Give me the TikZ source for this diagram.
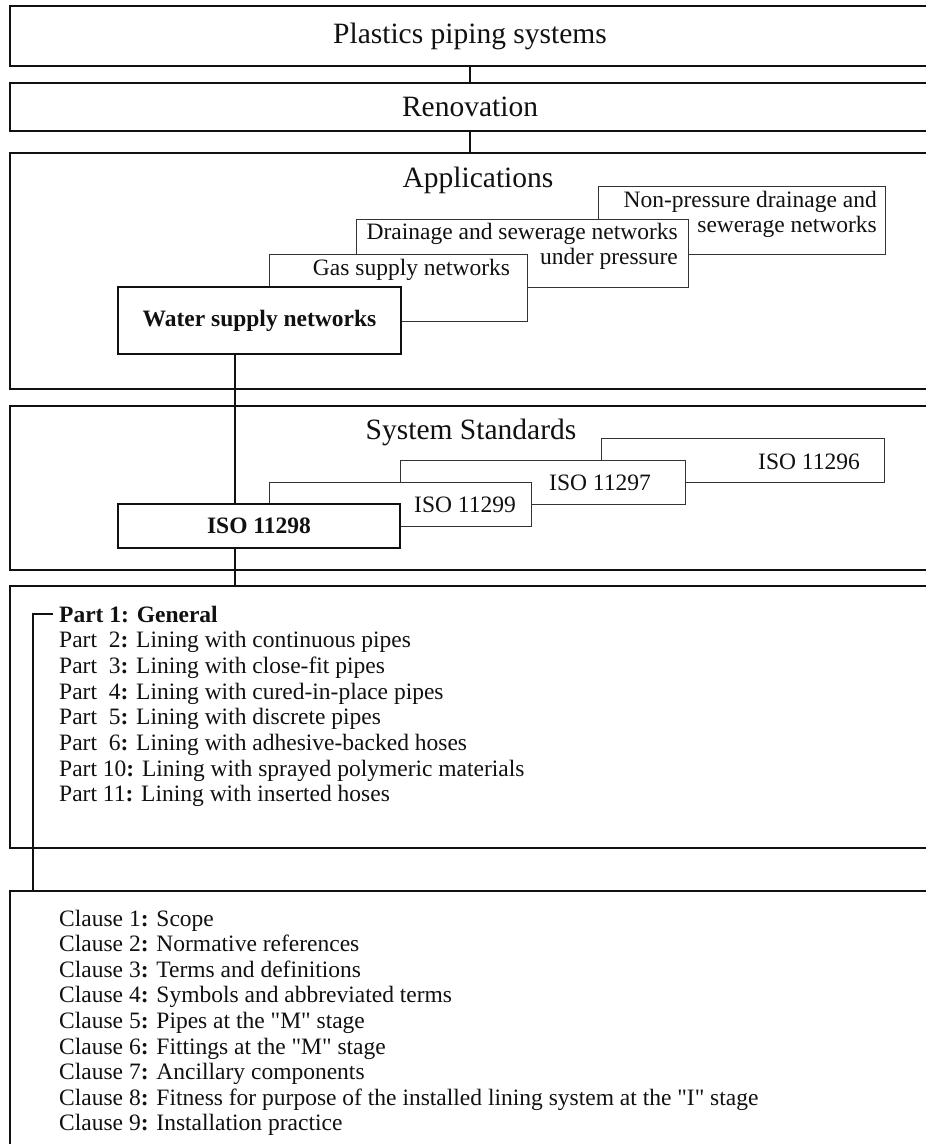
\documentclass[tikz,border=0pt]{standalone}
\usepackage{fontspec}
\setmainfont{Liberation Serif}
\usepackage{xcolor}
\usepackage{tikz}
\usetikzlibrary{positioning}
\definecolor{INK}{HTML}{111111}
\definecolor{EDGE}{HTML}{333333}

\begin{document}
\begin{tikzpicture}[
  x=1pt, y=-1pt,
  frame/.style={draw=INK, line width=2pt, minimum width=920, inner sep=0},
  title/.style={font=\fontsize{29.5}{32}\selectfont, text=INK, inner sep=0},
  sub/.style={draw=EDGE, line width=1pt, fill=white, inner sep=0},
  main/.style={draw=INK, line width=2.6pt, fill=white, inner sep=0},
  txt/.style={font=\fontsize{23.5}{25.5}\selectfont, text=INK, inner sep=0},
  bold/.style={font=\fontsize{23.5}{25.5}\selectfont\bfseries, text=INK, inner sep=0},
  link/.style={draw=INK, line width=2pt},
]
\useasboundingbox (0,0) rectangle (926,1144);
\clip (0,0) rectangle (926,1144);
\fill[white] (0,0) rectangle (926,1144);

% outer bands, right edges run off the page
\node[frame, title, minimum height=60] (plastics) at (470,36) {Plastics piping systems};
\node[frame, title, minimum height=48] (renov) at (470,107) {Renovation};
\node[frame, minimum height=236] (apps) at (470,271) {};
\node[title] (appstitle) at (478,180) {Applications};
\node[frame, minimum height=164] (stds) at (470,488) {};
\node[title] (stdstitle) at (471,432) {System Standards};
\node[frame, minimum height=262] (parts) at (470,717) {};
\node[frame, minimum height=270] (clauses) at (470,1026) {};

% applications, stacked back to front
\node[sub, minimum width=287, minimum height=68] (nonpress) at (741.5,220) {};
\node[txt, anchor=east, align=right] (nonpresstxt) at (877,214.5)
  {Non-pressure drainage and\\sewerage networks};
\node[sub, minimum width=332, minimum height=68] (drain) at (522,253) {};
\node[txt, anchor=east, align=right] (draintxt) at (678,246.5)
  {Drainage and sewerage networks\\under pressure};
\node[sub, minimum width=258, minimum height=67] (gas) at (398,287.5) {};
\node[txt] (gastxt) at (411.5,270) {Gas supply networks};
\node[main, bold, minimum width=283, minimum height=67] (water) at (259.5,320.5) {Water supply networks};

% system standards
\node[sub, minimum width=283, minimum height=44] (iso96) at (742.5,460) {};
\node[txt] (iso96txt) at (809,462) {ISO 11296};
\node[sub, minimum width=285, minimum height=44] (iso97) at (542.5,482) {};
\node[txt] (iso97txt) at (600,483) {ISO 11297};
\node[sub, minimum width=262, minimum height=44] (iso99) at (400,504) {};
\node[txt] (iso99txt) at (465,505) {ISO 11299};
\node[main, bold, minimum width=282, minimum height=44] (iso98) at (259,526) {ISO 11298};

% parts of ISO 11298
\node[bold, anchor=base west] (part1) at (59,622) {Part 1: General};
\foreach \t [count=\i from 2] in {
  {Part\ \ 2\textbf{:} Lining with continuous pipes},
  {Part\ \ 3\textbf{:} Lining with close-fit pipes},
  {Part\ \ 4\textbf{:} Lining with cured-in-place pipes},
  {Part\ \ 5\textbf{:} Lining with discrete pipes},
  {Part\ \ 6\textbf{:} Lining with adhesive-backed hoses},
  {Part 10\textbf{:} Lining with sprayed polymeric materials},
  {Part 11\textbf{:} Lining with inserted hoses}}
  \node[txt, anchor=base west] (part\i) at (59,596.3+25.7*\i) {\t};

% clauses of part 1
\foreach \t [count=\i] in {Scope, Normative references, Terms and definitions,
  Symbols and abbreviated terms, Pipes at the \textquotedbl M\textquotedbl{} stage,
  Fittings at the \textquotedbl M\textquotedbl{} stage, Ancillary components,
  Fitness for purpose of the installed lining system at the \textquotedbl I\textquotedbl{} stage,
  Installation practice}
  \node[txt, anchor=base west] (clause\i) at (59,900.4+25.6*\i) {Clause \i\textbf{:} \t};

% connectors
\coordinate (trunk) at (235,0);
\coordinate (bracket) at (33,0);
\draw[link] (plastics) -- (renov);
\draw[link] (renov) -- (apps);
\draw[link] (water.south -| trunk) -- (iso98.north -| trunk);
\draw[link] (iso98.south -| trunk) -- (parts.north -| trunk);
\draw[link] ([shift={(-6pt,8pt)}]part1.base west) -| (clauses.north -| bracket);

\end{tikzpicture}
\end{document}
